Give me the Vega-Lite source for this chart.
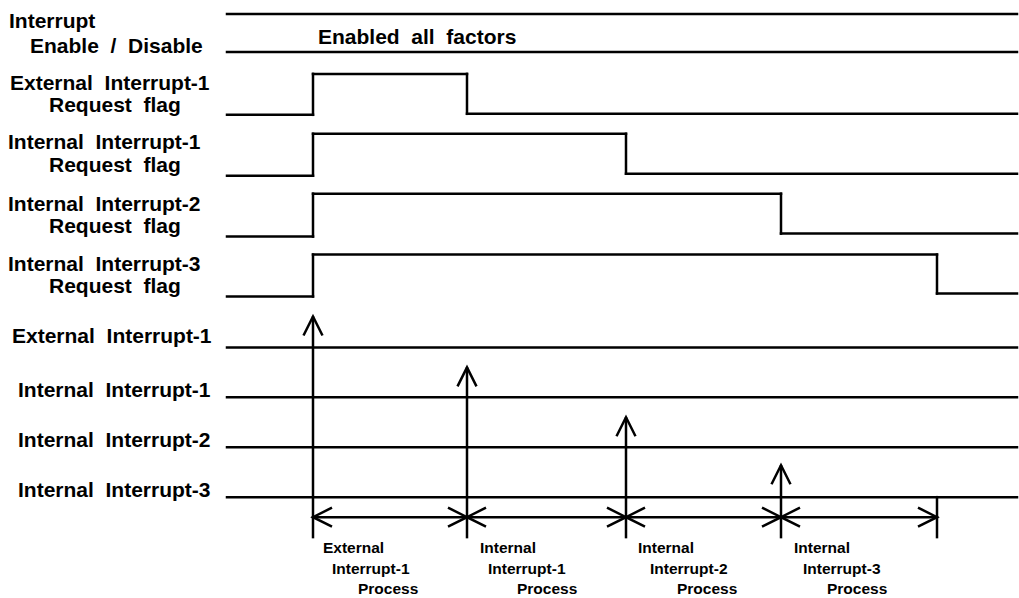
{
  "$schema": "https://vega.github.io/schema/vega-lite/v6.json",
  "width": 1019,
  "height": 598,
  "autosize": {"type": "fit", "contains": "padding"},
  "padding": 0,
  "background": "white",
  "config": {"view": {"stroke": null}},
  "datasets": {
    "segments": [
      {"x": 227, "y": 14, "x2": 1017, "y2": 14},
      {"x": 227, "y": 52, "x2": 1017, "y2": 52},
      {"x": 227, "y": 115, "x2": 313, "y2": 115},
      {"x": 313, "y": 115, "x2": 313, "y2": 74},
      {"x": 313, "y": 74, "x2": 467, "y2": 74},
      {"x": 467, "y": 74, "x2": 467, "y2": 114},
      {"x": 467, "y": 114, "x2": 1017, "y2": 114},
      {"x": 227, "y": 176, "x2": 313, "y2": 176},
      {"x": 313, "y": 176, "x2": 313, "y2": 134},
      {"x": 313, "y": 134, "x2": 626, "y2": 134},
      {"x": 626, "y": 134, "x2": 626, "y2": 174},
      {"x": 626, "y": 174, "x2": 1017, "y2": 174},
      {"x": 227, "y": 237, "x2": 313, "y2": 237},
      {"x": 313, "y": 237, "x2": 313, "y2": 194},
      {"x": 313, "y": 194, "x2": 781, "y2": 194},
      {"x": 781, "y": 194, "x2": 781, "y2": 234},
      {"x": 781, "y": 234, "x2": 1017, "y2": 234},
      {"x": 227, "y": 297, "x2": 313, "y2": 297},
      {"x": 313, "y": 297, "x2": 313, "y2": 255},
      {"x": 313, "y": 255, "x2": 937, "y2": 255},
      {"x": 937, "y": 255, "x2": 937, "y2": 294},
      {"x": 937, "y": 294, "x2": 1017, "y2": 294},
      {"x": 227, "y": 348, "x2": 1017, "y2": 348},
      {"x": 227, "y": 398, "x2": 1017, "y2": 398},
      {"x": 227, "y": 448, "x2": 1017, "y2": 448},
      {"x": 227, "y": 498, "x2": 1017, "y2": 498},
      {"x": 313, "y": 538, "x2": 313, "y2": 318},
      {"x": 467, "y": 538, "x2": 467, "y2": 369},
      {"x": 626, "y": 538, "x2": 626, "y2": 419},
      {"x": 781, "y": 538, "x2": 781, "y2": 467},
      {"x": 937, "y": 498, "x2": 937, "y2": 538},
      {"x": 313, "y": 518, "x2": 937, "y2": 518}
    ],
    "heads": [
      {"x": 313, "y": 317, "shape": "M-1,2L0,0L1,2"},
      {"x": 467, "y": 368, "shape": "M-1,2L0,0L1,2"},
      {"x": 626, "y": 418, "shape": "M-1,2L0,0L1,2"},
      {"x": 781, "y": 466, "shape": "M-1,2L0,0L1,2"},
      {"x": 313, "y": 518, "shape": "M2,-1L0,0L2,1"},
      {"x": 467, "y": 518, "shape": "M2,-1L0,0L2,1"},
      {"x": 626, "y": 518, "shape": "M2,-1L0,0L2,1"},
      {"x": 781, "y": 518, "shape": "M2,-1L0,0L2,1"},
      {"x": 467, "y": 518, "shape": "M-2,-1L0,0L-2,1"},
      {"x": 626, "y": 518, "shape": "M-2,-1L0,0L-2,1"},
      {"x": 781, "y": 518, "shape": "M-2,-1L0,0L-2,1"},
      {"x": 937, "y": 518, "shape": "M-2,-1L0,0L-2,1"}
    ],
    "labels": [
      {"x": 9, "y": 28, "text": "Interrupt", "size": 21},
      {"x": 30, "y": 53, "text": "Enable \u00a0/ \u00a0Disable", "size": 21},
      {"x": 318, "y": 44, "text": "Enabled \u00a0all \u00a0factors", "size": 21},
      {"x": 10, "y": 90, "text": "External \u00a0Interrupt-1", "size": 21},
      {"x": 49, "y": 112, "text": "Request \u00a0flag", "size": 21},
      {"x": 8, "y": 149, "text": "Internal \u00a0Interrupt-1", "size": 21},
      {"x": 49, "y": 172, "text": "Request \u00a0flag", "size": 21},
      {"x": 8, "y": 211, "text": "Internal \u00a0Interrupt-2", "size": 21},
      {"x": 49, "y": 233, "text": "Request \u00a0flag", "size": 21},
      {"x": 8, "y": 271, "text": "Internal \u00a0Interrupt-3", "size": 21},
      {"x": 49, "y": 293, "text": "Request \u00a0flag", "size": 21},
      {"x": 12, "y": 344, "text": "External \u00a0Interrupt-1", "size": 21},
      {"x": 18, "y": 398, "text": "Internal \u00a0Interrupt-1", "size": 21},
      {"x": 18, "y": 448, "text": "Internal \u00a0Interrupt-2", "size": 21},
      {"x": 18, "y": 498, "text": "Internal \u00a0Interrupt-3", "size": 21},
      {"x": 323, "y": 554, "text": "External", "size": 15.5},
      {"x": 332, "y": 575, "text": "Interrupt-1", "size": 15.5},
      {"x": 358, "y": 595, "text": "Process", "size": 15.5},
      {"x": 480, "y": 554, "text": "Internal", "size": 15.5},
      {"x": 488, "y": 575, "text": "Interrupt-1", "size": 15.5},
      {"x": 517, "y": 595, "text": "Process", "size": 15.5},
      {"x": 638, "y": 554, "text": "Internal", "size": 15.5},
      {"x": 650, "y": 575, "text": "Interrupt-2", "size": 15.5},
      {"x": 677, "y": 595, "text": "Process", "size": 15.5},
      {"x": 794, "y": 554, "text": "Internal", "size": 15.5},
      {"x": 803, "y": 575, "text": "Interrupt-3", "size": 15.5},
      {"x": 827, "y": 595, "text": "Process", "size": 15.5}
    ]
  },
  "layer": [
    {
      "data": {"name": "segments"},
      "mark": {"type": "rule", "color": "black", "strokeWidth": 2.5, "strokeCap": "square"},
      "encoding": {
        "x": {"field": "x", "type": "quantitative", "axis": null, "scale": {"domain": [0, 1019], "nice": false, "zero": false}},
        "y": {"field": "y", "type": "quantitative", "axis": null, "scale": {"domain": [0, 598], "nice": false, "zero": false, "reverse": true}},
        "x2": {"field": "x2"},
        "y2": {"field": "y2"}
      }
    },
    {
      "data": {"name": "heads"},
      "mark": {"type": "point", "filled": false, "stroke": "black", "strokeWidth": 2.5, "size": 361, "opacity": 1, "strokeJoin": "miter"},
      "encoding": {
        "x": {"field": "x", "type": "quantitative"},
        "y": {"field": "y", "type": "quantitative"},
        "shape": {"field": "shape", "type": "nominal", "scale": null}
      }
    },
    {
      "data": {"name": "labels"},
      "mark": {"type": "text", "align": "left", "baseline": "alphabetic", "font": "Liberation Sans", "fontWeight": "bold", "color": "black"},
      "encoding": {
        "x": {"field": "x", "type": "quantitative"},
        "y": {"field": "y", "type": "quantitative"},
        "text": {"field": "text", "type": "nominal"},
        "size": {"field": "size", "type": "quantitative", "scale": null}
      }
    }
  ]
}
